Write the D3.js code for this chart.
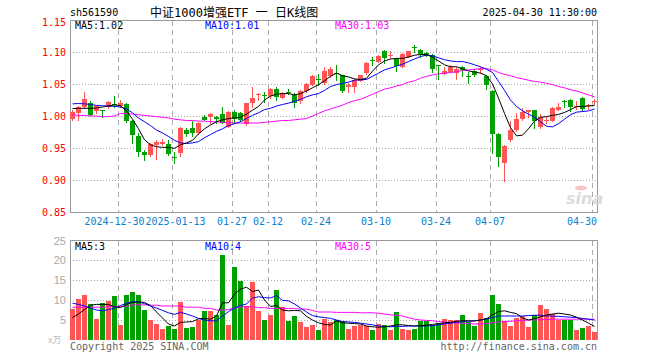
<!DOCTYPE html>
<html>
<head>
<meta charset="utf-8">
<script src="https://cdn.jsdelivr.net/npm/d3@7"></script>
<style>
	html, body { margin: 0; padding: 0; background: #fff; }
	svg { display: block; }
	text { font-family: "DejaVu Sans Mono", monospace; font-size: 10px; }
</style>
</head>
<body>
<div id="chart"></div>
<script>
(function() {
	'use strict';

	// DATA //

	var code = 'sh561590',
		title = '中证1000增强ETF 一 日K线图',
		stamp = '2025-04-30 11:30:00';

	var dates = [
		'2024-12-18','2024-12-19','2024-12-20','2024-12-23','2024-12-24','2024-12-25','2024-12-26','2024-12-27','2024-12-30','2024-12-31',
		'2025-01-02','2025-01-03','2025-01-06','2025-01-07','2025-01-08','2025-01-09','2025-01-10','2025-01-13','2025-01-14','2025-01-15',
		'2025-01-16','2025-01-17','2025-01-20','2025-01-21','2025-01-22','2025-01-23','2025-01-24','2025-01-27','2025-02-05','2025-02-06',
		'2025-02-07','2025-02-10','2025-02-11','2025-02-12','2025-02-13','2025-02-14','2025-02-17','2025-02-18','2025-02-19','2025-02-20',
		'2025-02-21','2025-02-24','2025-02-25','2025-02-26','2025-02-27','2025-02-28','2025-03-03','2025-03-04','2025-03-05','2025-03-06',
		'2025-03-07','2025-03-10','2025-03-11','2025-03-12','2025-03-13','2025-03-14','2025-03-17','2025-03-18','2025-03-19','2025-03-20',
		'2025-03-21','2025-03-24','2025-03-25','2025-03-26','2025-03-27','2025-03-28','2025-03-31','2025-04-01','2025-04-02','2025-04-03',
		'2025-04-07','2025-04-08','2025-04-09','2025-04-10','2025-04-11','2025-04-14','2025-04-15','2025-04-16','2025-04-17','2025-04-18',
		'2025-04-21','2025-04-22','2025-04-23','2025-04-24','2025-04-25','2025-04-28','2025-04-29','2025-04-30'
	];

	var open = [
		0.995,1.004,1.0135,1.0198,1.0083,1.0088,1.0146,1.0185,1.0156,1.0187,
		0.9927,0.9687,0.9437,0.9385,0.954,0.956,0.956,0.9365,0.9417,0.978,
		0.981,0.9729,0.999,0.999,0.999,1.003,0.9833,1.006,1.005,0.9875,
		1.0198,1.0335,1.0325,1.0313,1.0417,1.0286,1.038,1.0333,1.024,1.0385,
		1.049,1.0575,1.051,1.0625,1.0665,1.0635,1.0448,1.0458,1.055,1.0667,
		1.087,1.085,1.102,1.094,1.0885,1.077,1.0927,1.1075,1.103,1.099,
		1.095,1.0795,1.0656,1.0687,1.0667,1.077,1.062,1.071,1.072,1.0625,
		1.0396,0.972,0.927,0.9625,0.978,0.9948,1.0063,1.0094,0.983,0.9932,
		0.9927,1.0094,1.0242,1.025,1.0152,1.028,1.0162,1.0225
	];

	var high = [
		1.009,1.015,1.0375,1.0234,1.017,1.009,1.024,1.031,1.0255,1.020,
		0.994,0.973,0.947,0.958,0.9625,0.964,0.962,0.944,0.983,0.9805,
		0.9917,0.991,1.002,1.004,1.000,1.0135,1.008,1.009,1.006,1.021,
		1.0448,1.036,1.038,1.043,1.0448,1.0375,1.0427,1.0365,1.0406,1.051,
		1.0646,1.0656,1.0771,1.0771,1.080,1.0646,1.051,1.0583,1.0646,1.0844,
		1.0927,1.096,1.103,1.102,1.0906,1.099,1.102,1.1115,1.104,1.100,
		1.097,1.080,1.077,1.079,1.077,1.078,1.0687,1.074,1.077,1.0646,
		1.0406,0.974,0.954,0.9927,1.005,1.0125,1.010,1.010,1.003,0.998,
		1.0135,1.0198,1.0245,1.026,1.0229,1.029,1.0187,1.026
	];

	var low = [
		0.993,0.993,1.012,1.001,1.004,0.999,1.013,1.0146,1.0146,0.991,
		0.958,0.9375,0.932,0.937,0.933,0.955,0.939,0.927,0.9375,0.969,
		0.969,0.972,0.993,0.9885,0.9885,0.9885,0.983,0.9896,0.9927,0.986,
		1.0146,1.0245,1.0224,1.0276,1.0255,1.028,1.034,1.0146,1.0208,1.037,
		1.048,1.049,1.050,1.061,1.0563,1.0375,1.0375,1.0375,1.054,1.066,
		1.080,1.085,1.083,1.0906,1.070,1.076,1.092,1.100,1.0927,1.093,
		1.069,1.058,1.065,1.068,1.058,1.0625,1.051,1.063,1.0667,1.0417,
		0.9427,0.922,0.898,0.961,0.976,0.994,0.998,0.982,0.981,0.9896,
		0.992,1.009,1.0146,1.0073,1.0115,1.0083,1.0115,1.0187
	];

	var close = [
		1.006,1.0135,1.0266,1.002,1.0156,1.0083,1.0219,1.0175,1.0198,0.9927,
		0.9698,0.944,0.9396,0.956,0.9594,0.960,0.9406,0.936,0.981,0.972,
		0.973,0.9896,0.9937,1.003,0.9948,0.9896,1.007,0.9958,0.9937,1.0198,
		1.0276,1.0344,1.0318,1.0417,1.030,1.0354,1.0375,1.0208,1.0385,1.050,
		1.0625,1.057,1.0698,1.0729,1.0656,1.0396,1.0484,1.0563,1.0635,1.0823,
		1.0865,1.094,1.0906,1.095,1.078,1.097,1.101,1.107,1.097,1.094,
		1.073,1.079,1.071,1.077,1.074,1.072,1.0615,1.0646,1.073,1.049,
		0.972,0.9365,0.953,0.978,0.9948,1.0063,1.0094,0.9927,0.999,0.9937,
		1.0125,1.0146,1.0238,1.0135,1.0156,1.0104,1.0167,1.023
	];

	var ma5 = [
		1.0115,1.012,1.012,1.012,1.0125,1.014,1.0156,1.0175,1.016,1.008,
		0.995,0.98,0.963,0.955,0.952,0.951,0.951,0.9495,0.955,0.958,
		0.962,0.972,0.98,0.986,0.991,0.994,0.996,0.997,0.998,1.003,
		1.009,1.015,1.025,1.031,1.034,1.035,1.035,1.033,1.035,1.039,
		1.044,1.049,1.055,1.062,1.067,1.063,1.061,1.058,1.057,1.059,
		1.07,1.08,1.086,1.089,1.090,1.090,1.092,1.095,1.096,1.096,
		1.092,1.086,1.080,1.077,1.077,1.0735,1.0705,1.0687,1.067,1.063,
		1.05,1.028,1.004,0.982,0.969,0.970,0.980,0.992,0.998,0.999,
		1.001,1.0025,1.0055,1.010,1.0146,1.015,1.0156,1.0165
	];

	var ma10 = [
		1.019,1.0195,1.019,1.018,1.0165,1.016,1.0155,1.015,1.014,1.011,
		1.005,0.997,0.991,0.985,0.978,0.9735,0.968,0.962,0.958,0.957,
		0.958,0.960,0.966,0.971,0.976,0.980,0.985,0.988,0.991,0.996,
		1.001,1.005,1.010,1.012,1.0155,1.018,1.020,1.023,1.026,1.030,
		1.033,1.035,1.040,1.046,1.049,1.051,1.053,1.056,1.0565,1.057,
		1.062,1.067,1.072,1.075,1.078,1.081,1.085,1.089,1.093,1.095,
		1.094,1.091,1.088,1.086,1.085,1.085,1.083,1.080,1.077,1.073,
		1.068,1.054,1.040,1.025,1.015,1.008,1.003,0.998,0.991,0.984,
		0.983,0.988,0.995,1.002,1.006,1.007,1.008,1.011
	];

	var ma30 = [
		1.002,1.001,1.001,1.000,1.000,0.999,0.999,1.000,1.004,1.004,
		1.003,1.002,1.001,1.000,0.999,0.998,0.997,0.995,0.994,0.993,
		0.993,0.992,0.992,0.991,0.991,0.990,0.990,0.989,0.989,0.989,
		0.989,0.989,0.990,0.991,0.992,0.993,0.993,0.994,0.995,0.996,
		1.000,1.004,1.008,1.011,1.014,1.017,1.021,1.024,1.026,1.030,
		1.034,1.038,1.042,1.044,1.047,1.049,1.053,1.055,1.059,1.062,
		1.064,1.066,1.067,1.068,1.069,1.071,1.072,1.073,1.074,1.074,
		1.072,1.068,1.065,1.063,1.060,1.058,1.056,1.054,1.053,1.051,
		1.049,1.046,1.044,1.041,1.039,1.036,1.033,1.030
	];

	// Volume, in units of 10,000 shares:
	var volume = [
		7.75,10.25,11.25,9.0,5.25,9.25,9.75,11.0,3.75,11.25,
		12.0,11.25,7.5,5.0,4.0,2.75,3.5,2.75,9.5,3.0,
		3.25,5.0,7.25,7.25,6.25,21.25,3.75,18.25,14.75,8.5,
		14.5,7.25,5.0,6.25,12.5,8.25,4.75,6.0,4.5,3.25,
		3.75,2.5,5.25,4.5,5.0,4.8,2.75,3.5,3.75,3.5,
		2.5,3.9,3.75,2.5,7.0,2.75,2.5,2.75,4.75,4.75,
		3.75,4.2,5.25,5.0,5.0,6.25,4.5,3.5,6.8,5.5,
		11.25,9.0,4.75,3.5,5.5,6.0,3.25,6.25,8.75,7.75,
		6.5,5.0,5.1,5.1,2.5,3.0,3.5,2.1
	];

	var volMa5 = [
		5.6,6.5,7.6,8.7,8.9,8.9,8.9,8.3,8.1,8.9,
		9.4,9.5,9.4,8.6,7.0,5.5,4.0,3.5,4.4,4.5,
		4.6,5.3,5.4,5.2,6.0,9.3,9.3,11.5,12.7,13.2,
		12.1,12.5,10.0,8.4,8.6,7.5,7.3,7.4,7.3,5.9,
		5.0,4.3,3.9,3.75,4.8,4.3,4.2,4.1,4.0,3.5,
		3.3,3.2,3.3,3.5,3.8,3.8,3.6,3.5,3.6,3.7,
		3.9,4.1,4.3,4.4,4.7,4.8,4.8,4.75,5.0,5.3,
		6.3,7.1,7.3,6.9,6.6,5.5,5.0,5.3,5.8,6.25,
		6.5,6.7,6.5,6.25,5.7,5.0,4.2,3.4
	];

	var volMa10 = [
		9.2,8.9,8.5,8.0,7.5,7.3,7.6,8.0,8.6,9.2,
		9.6,9.5,9.1,8.5,8.0,7.4,6.8,6.4,6.9,6.5,
		6.0,5.4,5.0,4.8,4.8,6.0,7.1,8.0,8.6,9.0,
		10.5,10.8,10.6,10.5,11.1,9.9,9.8,9.0,8.0,7.0,
		6.1,5.8,5.6,5.4,5.0,4.6,4.5,4.4,4.2,4.0,
		3.8,3.5,3.4,3.3,3.4,3.4,3.5,3.5,3.5,3.5,
		3.6,3.8,4.0,4.2,4.4,4.6,4.7,4.8,5.0,5.2,
		5.6,6.0,6.0,6.0,6.0,6.0,6.1,6.2,6.2,6.0,
		6.0,5.9,5.8,5.7,5.6,5.4,5.2,5.0
	];

	var volMa30 = [
		8.2,8.2,8.2,8.2,8.2,8.2,8.4,8.4,8.4,8.4,
		8.8,8.8,8.8,8.7,8.7,8.5,8.5,8.5,8.5,8.2,
		8.2,8.2,7.9,7.9,7.5,7.5,7.6,8.0,8.3,8.3,
		8.3,8.1,8.1,7.9,7.9,7.9,7.9,7.9,7.7,7.7,
		7.4,7.0,7.0,7.0,6.9,6.9,6.9,6.9,6.8,6.8,
		6.8,6.7,6.5,6.3,6.2,6.0,5.6,5.2,5.0,4.9,
		4.8,4.6,4.5,4.4,4.3,4.2,4.1,4.0,4.0,4.1,
		4.3,4.5,4.6,4.7,4.8,4.9,5.0,5.0,5.1,5.1,
		5.2,5.2,5.2,5.2,5.2,5.2,5.2,5.2
	];

	var tickDates = ['2024-12-30','2025-01-13','2025-01-27','2025-02-12','2025-02-24','2025-03-10','2025-03-24','2025-04-07','2025-04-30'],
		tickLabels = ['2024-12-30','2025-01-13','01-27','02-12','02-24','03-10','03-24','04-07','04-30'];

	var priceTicks = [1.15, 1.10, 1.05, 1.00, 0.95, 0.90, 0.85],
		volumeTicks = [25, 20, 15, 10, 5];

	var priceLegend = [ 'MA5:1.02', 'MA10:1.01', 'MA30:1.03' ],
		volumeLegend = [ 'MA5:3', 'MA10:4', 'MA30:5' ],
		legendColors = [ '#000', '#00f', '#f0f' ];


	// CHART //

	var w = 660,
		h = 360,
		left = 70,
		right = 597,
		pTop = 20,
		pBottom = 212,
		vTop = 240,
		vBottom = 340,
		up = '#ff5555',
		down = '#00a000',
		svg, x, yP, yV, bw, grid, candles, line;

	// Create the canvas:
	svg = d3.select( '#chart' ).append( 'svg' )
		.attr( 'width', w )
		.attr( 'height', h )
		.attr( 'viewBox', '0 0 ' + w + ' ' + h );

	svg.append( 'rect' )
		.attr( 'width', w )
		.attr( 'height', h )
		.attr( 'fill', '#fff' );

	// Scales:
	x = d3.scaleBand()
		.domain( dates )
		.range( [ left, right ] )
		.paddingInner( 1/6 )
		.paddingOuter( 0 )
		.align( 0 );
	bw = x.bandwidth();

	yP = d3.scaleLinear()
		.domain( [ 0.85, 1.15 ] )
		.range( [ pBottom, pTop ] );

	yV = d3.scaleLinear()
		.domain( [ 0, 25 ] )
		.range( [ vBottom, vTop ] );

	function cx( i ) {
		return Math.round( x( dates[ i ] ) ) + bw/2;
	}

	// Header texts:
	svg.append( 'text' )
		.attr( 'x', 70 )
		.attr( 'y', 16 )
		.text( code );

	svg.append( 'text' )
		.attr( 'x', 150 )
		.attr( 'y', 17 )
		.style( 'font-family', '"DejaVu Sans Mono", "Noto Sans CJK SC", monospace' )
		.style( 'font-size', '12px' )
		.text( title );

	svg.append( 'text' )
		.attr( 'x', right )
		.attr( 'y', 16 )
		.attr( 'text-anchor', 'end' )
		.text( stamp );

	// Grid:
	grid = svg.append( 'g' ).attr( 'class', 'grid' );

	grid.selectAll( 'line.ph' )
		.data( priceTicks.slice( 1, -1 ) )
	  .enter().append( 'line' )
		.attr( 'x1', left )
		.attr( 'x2', right )
		.attr( 'y1', function( d ) { return Math.round( yP( d ) ) + 0.5; } )
		.attr( 'y2', function( d ) { return Math.round( yP( d ) ) + 0.5; } )
		.attr( 'stroke', '#aaa' )
		.attr( 'stroke-dasharray', '1,2' );

	grid.selectAll( 'line.vh' )
		.data( volumeTicks.slice( 1 ) )
	  .enter().append( 'line' )
		.attr( 'x1', left )
		.attr( 'x2', right )
		.attr( 'y1', function( d ) { return Math.round( yV( d ) ) + 0.5; } )
		.attr( 'y2', function( d ) { return Math.round( yV( d ) ) + 0.5; } )
		.attr( 'stroke', '#aaa' )
		.attr( 'stroke-dasharray', '1,2' );

	[ [ pTop, pBottom ], [ vTop, vBottom ] ].forEach( function( span ) {
		grid.selectAll( null )
			.data( tickDates )
		  .enter().append( 'line' )
			.attr( 'x1', function( d ) { return Math.round( x( d ) ) + 0.5; } )
			.attr( 'x2', function( d ) { return Math.round( x( d ) ) + 0.5; } )
			.attr( 'y1', span[ 0 ] + 1 )
			.attr( 'y2', span[ 1 ] )
			.attr( 'stroke', '#aaa' )
			.attr( 'stroke-dasharray', '5,4' );
	});

	// Panel frames:
	svg.append( 'path' )
		.attr( 'd', 'M' + ( left + 0.5 ) + ',' + pBottom + 'V' + ( pTop + 0.5 ) + 'H' + ( right + 0.5 ) + 'V' + pBottom + 'M' + left + ',' + ( pBottom + 0.5 ) + 'H' + ( right + 1 ) )
		.attr( 'fill', 'none' )
		.attr( 'stroke', '#999' );

	svg.append( 'path' )
		.attr( 'd', 'M' + ( left + 0.5 ) + ',' + vBottom + 'V' + ( vTop + 0.5 ) + 'H' + ( right + 0.5 ) + 'V' + vBottom )
		.attr( 'fill', 'none' )
		.attr( 'stroke', '#999' );

	// Axis labels:
	svg.append( 'g' ).selectAll( 'text' )
		.data( priceTicks )
	  .enter().append( 'text' )
		.attr( 'x', 66 )
		.attr( 'y', function( d ) { return Math.max( yP( d ) + 4, 26 ); } )
		.attr( 'text-anchor', 'end' )
		.attr( 'fill', '#f00' )
		.text( function( d ) { return d.toFixed( 2 ); } );

	svg.append( 'g' ).selectAll( 'text' )
		.data( volumeTicks )
	  .enter().append( 'text' )
		.attr( 'x', 66 )
		.attr( 'y', function( d ) { return Math.max( yV( d ) + 4, 245 ); } )
		.attr( 'text-anchor', 'end' )
		.attr( 'fill', '#aaa' )
		.style( 'font-family', '"Liberation Sans", Arial, sans-serif' )
		.style( 'font-size', '11px' )
		.text( function( d ) { return d; } );

	svg.append( 'text' )
		.attr( 'x', 48 )
		.attr( 'y', 343 )
		.attr( 'fill', '#bbb' )
		.style( 'font-family', '"Noto Sans CJK SC", sans-serif' )
		.style( 'font-size', '9px' )
		.text( 'x万' );

	// Date labels; the two long first labels are nudged apart so they do not collide:
	svg.append( 'g' ).selectAll( 'text' )
		.data( tickDates )
	  .enter().append( 'text' )
		.attr( 'x', function( d ) { return Math.round( x( d ) ); } )
		.attr( 'y', 225 )
		.attr( 'text-anchor', function( d, i ) { return i === tickDates.length - 1 ? 'end' : 'middle'; } )
		.attr( 'dx', function( d, i ) {
			if ( i === 0 ) { return -3.5; }
			if ( i === 1 ) { return 3.5; }
			return i === tickDates.length - 1 ? 5 : 0;
		})
		.attr( 'fill', '#0a7fd0' )
		.text( function( d, i ) { return tickLabels[ i ]; } );

	// Watermark:
	svg.append( 'text' )
		.attr( 'x', 566 )
		.attr( 'y', 204 )
		.attr( 'fill', '#dcdcdc' )
		.style( 'font-family', '"DejaVu Sans", sans-serif' )
		.style( 'font-size', '16px' )
		.style( 'font-weight', 'bold' )
		.style( 'font-style', 'italic' )
		.text( 'sina' );
	svg.append( 'ellipse' )
		.attr( 'cx', 581 )
		.attr( 'cy', 188 )
		.attr( 'rx', 6 )
		.attr( 'ry', 2.5 )
		.attr( 'fill', '#f6c6c6' );

	// Candles:
	candles = svg.append( 'g' ).attr( 'class', 'candles' )
		.selectAll( 'g' )
		.data( dates )
	  .enter().append( 'g' );

	candles.append( 'line' )
		.attr( 'x1', function( d, i ) { return cx( i ); } )
		.attr( 'x2', function( d, i ) { return cx( i ); } )
		.attr( 'y1', function( d, i ) { return Math.round( yP( high[ i ] ) ); } )
		.attr( 'y2', function( d, i ) { return Math.round( yP( low[ i ] ) ) + 1; } )
		.attr( 'stroke', function( d, i ) { return close[ i ] >= open[ i ] ? up : down; } );

	candles.append( 'rect' )
		.attr( 'x', function( d ) { return Math.round( x( d ) ); } )
		.attr( 'width', bw )
		.attr( 'y', function( d, i ) { return Math.round( yP( Math.max( open[ i ], close[ i ] ) ) ); } )
		.attr( 'height', function( d, i ) {
			var t = Math.round( yP( Math.max( open[ i ], close[ i ] ) ) ),
				b = Math.round( yP( Math.min( open[ i ], close[ i ] ) ) );
			return Math.max( 1, b - t );
		})
		.attr( 'fill', function( d, i ) { return close[ i ] >= open[ i ] ? up : down; } );

	// Volume bars:
	svg.append( 'g' ).attr( 'class', 'bars' )
		.selectAll( 'rect' )
		.data( volume )
	  .enter().append( 'rect' )
		.attr( 'x', function( d, i ) { return Math.round( x( dates[ i ] ) ); } )
		.attr( 'width', bw )
		.attr( 'y', function( d ) { return Math.round( yV( d ) ); } )
		.attr( 'height', function( d ) { return vBottom - Math.round( yV( d ) ); } )
		.attr( 'fill', function( d, i ) { return close[ i ] >= open[ i ] ? up : down; } );

	// Moving average lines:
	function drawLine( values, scale, color ) {
		line = d3.line()
			.x( function( d, i ) { return cx( i ); } )
			.y( function( d ) { return scale( d ); } );
		svg.append( 'path' )
			.datum( values )
			.attr( 'd', line )
			.attr( 'fill', 'none' )
			.attr( 'stroke', color )
			.attr( 'stroke-width', 1 );
	}

	drawLine( ma30, yP, legendColors[ 2 ] );
	drawLine( ma10, yP, legendColors[ 1 ] );
	drawLine( ma5, yP, legendColors[ 0 ] );
	drawLine( volMa30, yV, legendColors[ 2 ] );
	drawLine( volMa10, yV, legendColors[ 1 ] );
	drawLine( volMa5, yV, legendColors[ 0 ] );

	// Legends:
	[ [ priceLegend, 29 ], [ volumeLegend, 250 ] ].forEach( function( row ) {
		svg.append( 'g' ).selectAll( 'text' )
			.data( row[ 0 ] )
		  .enter().append( 'text' )
			.attr( 'x', function( d, i ) { return 75 + i*130; } )
			.attr( 'y', row[ 1 ] )
			.attr( 'fill', function( d, i ) { return legendColors[ i ]; } )
			.text( function( d ) { return d; } );
	});

	// Footer:
	svg.append( 'text' )
		.attr( 'x', 70 )
		.attr( 'y', 350 )
		.attr( 'fill', '#666' )
		.text( 'Copyright 2025 SINA.COM' );

	svg.append( 'text' )
		.attr( 'x', right )
		.attr( 'y', 350 )
		.attr( 'text-anchor', 'end' )
		.attr( 'fill', '#666' )
		.text( 'http://finance.sina.com.cn' );

})();
</script>
</body>
</html>
